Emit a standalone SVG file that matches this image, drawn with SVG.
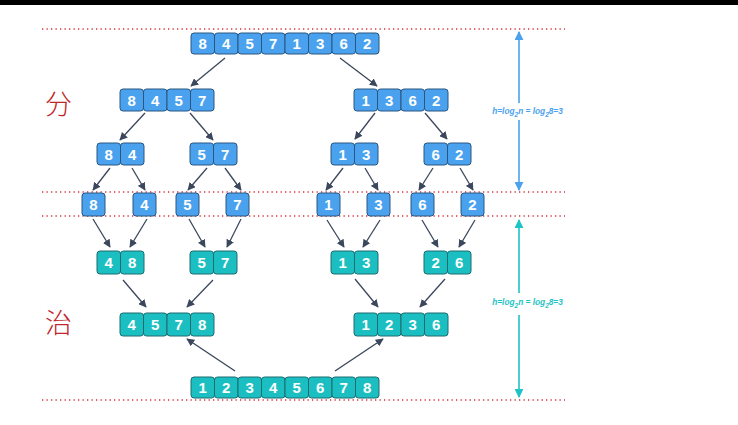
<svg xmlns="http://www.w3.org/2000/svg" width="738" height="425" viewBox="0 0 738 425">
<defs>
<style>
.b rect{fill:#4aa2ee;stroke:#2b5681;stroke-width:1}
.t rect{fill:#1cbfc1;stroke:#1d6c70;stroke-width:1}
.b text,.t text{font-family:"Liberation Sans",Arial,sans-serif;font-weight:bold;font-size:15px;fill:#fff;text-anchor:middle}
.dot{stroke:#d8343c;stroke-width:1.3;stroke-dasharray:1.3 3.2;fill:none}
.ar{stroke:#3a475c;stroke-width:1.3;fill:none;marker-end:url(#ah)}
.han{font-family:"Noto Sans CJK SC",sans-serif;font-size:27px;font-weight:300;fill:#c0262c}
.h{font-family:"Liberation Sans",Arial,sans-serif;font-size:8.3px;font-style:italic;font-weight:bold;text-anchor:middle}
</style>
<marker id="ah" viewBox="0 0 10 10" refX="9" refY="5" markerWidth="8" markerHeight="8" markerUnits="userSpaceOnUse" orient="auto"><path d="M0,0 L10,5 L0,10 z" fill="#3a475c"/></marker>
<marker id="hb" viewBox="0 0 10 10" refX="9" refY="5" markerWidth="9" markerHeight="9" markerUnits="userSpaceOnUse" orient="auto-start-reverse"><path d="M0,0 L10,5 L0,10 z" fill="#4aa2ee"/></marker>
<marker id="ht" viewBox="0 0 10 10" refX="9" refY="5" markerWidth="9" markerHeight="9" markerUnits="userSpaceOnUse" orient="auto-start-reverse"><path d="M0,0 L10,5 L0,10 z" fill="#1cc4c6"/></marker>
</defs>
<rect x="0" y="0" width="738" height="425" fill="#fff"/>
<rect x="0" y="0" width="738" height="5" fill="#000"/>
<g id="guides">
<line class="dot" x1="42" y1="29" x2="565" y2="29"/>
<line class="dot" x1="42" y1="192" x2="565" y2="192"/>
<line class="dot" x1="42" y1="216" x2="565" y2="216"/>
<line class="dot" x1="42" y1="400" x2="565" y2="400"/>
</g>
<text id="fen" class="han" x="45" y="114">分</text>
<text id="zhi" class="han" x="45" y="333">治</text>
<g id="connectors">
<line class="ar" x1="225" y1="58" x2="191" y2="86"/>
<line class="ar" x1="340" y1="58" x2="377" y2="86"/>
<line class="ar" x1="145" y1="113" x2="120" y2="140"/>
<line class="ar" x1="190" y1="113" x2="213" y2="140"/>
<line class="ar" x1="375" y1="113" x2="355" y2="139"/>
<line class="ar" x1="425" y1="113" x2="447" y2="139"/>
<line class="ar" x1="110" y1="168" x2="93" y2="190"/>
<line class="ar" x1="132" y1="168" x2="145" y2="190"/>
<line class="ar" x1="207" y1="168" x2="188" y2="190"/>
<line class="ar" x1="225" y1="168" x2="241" y2="190"/>
<line class="ar" x1="343" y1="168" x2="326" y2="190"/>
<line class="ar" x1="365" y1="168" x2="378" y2="190"/>
<line class="ar" x1="433" y1="168" x2="419" y2="190"/>
<line class="ar" x1="460" y1="168" x2="473" y2="190"/>
<line class="ar" x1="93" y1="219" x2="110" y2="247"/>
<line class="ar" x1="147" y1="219" x2="130" y2="247"/>
<line class="ar" x1="189" y1="219" x2="205" y2="247"/>
<line class="ar" x1="241" y1="219" x2="227" y2="247"/>
<line class="ar" x1="327" y1="220" x2="344" y2="247"/>
<line class="ar" x1="380" y1="220" x2="363" y2="247"/>
<line class="ar" x1="422" y1="220" x2="438" y2="247"/>
<line class="ar" x1="475" y1="220" x2="459" y2="247"/>
<line class="ar" x1="123" y1="280" x2="146" y2="307"/>
<line class="ar" x1="213" y1="280" x2="187" y2="307"/>
<line class="ar" x1="355" y1="279" x2="378" y2="307"/>
<line class="ar" x1="445" y1="279" x2="420" y2="307"/>
<line class="ar" x1="235" y1="371" x2="187" y2="339"/>
<line class="ar" x1="335" y1="371" x2="383" y2="339"/>
<line x1="519" y1="103" x2="519" y2="32" stroke="#4aa2ee" stroke-width="1.6" marker-end="url(#hb)"/>
<line x1="519" y1="120" x2="519" y2="190" stroke="#4aa2ee" stroke-width="1.6" marker-end="url(#hb)"/>
<line x1="519" y1="293" x2="519" y2="220" stroke="#1cc4c6" stroke-width="1.6" marker-end="url(#ht)"/>
<line x1="519" y1="315" x2="519" y2="397" stroke="#1cc4c6" stroke-width="1.6" marker-end="url(#ht)"/>
</g>
<text class="h" x="527.5" y="114" fill="#4aa2ee">h=log<tspan font-size="6.5" dy="2.5">2</tspan><tspan dy="-2.5">n = log</tspan><tspan font-size="6.5" dy="2.5">2</tspan><tspan dy="-2.5">8=3</tspan></text>
<text class="h" x="527.5" y="305" fill="#1cc4c6">h=log<tspan font-size="6.5" dy="2.5">2</tspan><tspan dy="-2.5">n = log</tspan><tspan font-size="6.5" dy="2.5">2</tspan><tspan dy="-2.5">8=3</tspan></text>
<g id="r1" class="b">
<rect x="191" y="33" width="23.5" height="21" rx="3"/><text x="202.75" y="49">8</text>
<rect x="214.5" y="33" width="23.5" height="21" rx="3"/><text x="226.25" y="49">4</text>
<rect x="238" y="33" width="23.5" height="21" rx="3"/><text x="249.75" y="49">5</text>
<rect x="261.5" y="33" width="23.5" height="21" rx="3"/><text x="273.25" y="49">7</text>
<rect x="285" y="33" width="23.5" height="21" rx="3"/><text x="296.75" y="49">1</text>
<rect x="308.5" y="33" width="23.5" height="21" rx="3"/><text x="320.25" y="49">3</text>
<rect x="332" y="33" width="23.5" height="21" rx="3"/><text x="343.75" y="49">6</text>
<rect x="355.5" y="33" width="23.5" height="21" rx="3"/><text x="367.25" y="49">2</text>
</g>
<g id="r2a" class="b">
<rect x="120" y="89" width="23.5" height="22" rx="3"/><text x="131.75" y="105.5">8</text>
<rect x="143.5" y="89" width="23.5" height="22" rx="3"/><text x="155.25" y="105.5">4</text>
<rect x="167" y="89" width="23.5" height="22" rx="3"/><text x="178.75" y="105.5">5</text>
<rect x="190.5" y="89" width="23.5" height="22" rx="3"/><text x="202.25" y="105.5">7</text>
</g>
<g id="r2b" class="b">
<rect x="354" y="89" width="23.5" height="22" rx="3"/><text x="365.75" y="105.5">1</text>
<rect x="377.5" y="89" width="23.5" height="22" rx="3"/><text x="389.25" y="105.5">3</text>
<rect x="401" y="89" width="23.5" height="22" rx="3"/><text x="412.75" y="105.5">6</text>
<rect x="424.5" y="89" width="23.5" height="22" rx="3"/><text x="436.25" y="105.5">2</text>
</g>
<g id="r3a" class="b">
<rect x="97" y="143" width="23.5" height="22" rx="3"/><text x="108.75" y="159.5">8</text>
<rect x="120.5" y="143" width="23.5" height="22" rx="3"/><text x="132.25" y="159.5">4</text>
</g>
<g id="r3b" class="b">
<rect x="190" y="143" width="23.5" height="22" rx="3"/><text x="201.75" y="159.5">5</text>
<rect x="213.5" y="143" width="23.5" height="22" rx="3"/><text x="225.25" y="159.5">7</text>
</g>
<g id="r3c" class="b">
<rect x="331" y="143" width="23.5" height="22" rx="3"/><text x="342.75" y="159.5">1</text>
<rect x="354.5" y="143" width="23.5" height="22" rx="3"/><text x="366.25" y="159.5">3</text>
</g>
<g id="r3d" class="b">
<rect x="424" y="143" width="23.5" height="22" rx="3"/><text x="435.75" y="159.5">6</text>
<rect x="447.5" y="143" width="23.5" height="22" rx="3"/><text x="459.25" y="159.5">2</text>
</g>
<g id="r4" class="b">
<rect x="82" y="193" width="23" height="23" rx="3"/><text x="93.5" y="210">8</text>
<rect x="133" y="193" width="23" height="23" rx="3"/><text x="144.5" y="210">4</text>
<rect x="176" y="193" width="23" height="23" rx="3"/><text x="187.5" y="210">5</text>
<rect x="226" y="193" width="23" height="23" rx="3"/><text x="237.5" y="210">7</text>
<rect x="317" y="193" width="23" height="23" rx="3"/><text x="328.5" y="210">1</text>
<rect x="367" y="193" width="23" height="23" rx="3"/><text x="378.5" y="210">3</text>
<rect x="411" y="193" width="23" height="23" rx="3"/><text x="422.5" y="210">6</text>
<rect x="461" y="193" width="23" height="23" rx="3"/><text x="472.5" y="210">2</text>
</g>
<g id="r5a" class="t">
<rect x="97" y="251" width="23.5" height="23" rx="3"/><text x="108.75" y="268">4</text>
<rect x="120.5" y="251" width="23.5" height="23" rx="3"/><text x="132.25" y="268">8</text>
</g>
<g id="r5b" class="t">
<rect x="190" y="251" width="23.5" height="23" rx="3"/><text x="201.75" y="268">5</text>
<rect x="213.5" y="251" width="23.5" height="23" rx="3"/><text x="225.25" y="268">7</text>
</g>
<g id="r5c" class="t">
<rect x="331" y="251" width="23.5" height="23" rx="3"/><text x="342.75" y="268">1</text>
<rect x="354.5" y="251" width="23.5" height="23" rx="3"/><text x="366.25" y="268">3</text>
</g>
<g id="r5d" class="t">
<rect x="424" y="251" width="23.5" height="23" rx="3"/><text x="435.75" y="268">2</text>
<rect x="447.5" y="251" width="23.5" height="23" rx="3"/><text x="459.25" y="268">6</text>
</g>
<g id="r6a" class="t">
<rect x="120" y="313" width="23.5" height="23" rx="3"/><text x="131.75" y="330">4</text>
<rect x="143.5" y="313" width="23.5" height="23" rx="3"/><text x="155.25" y="330">5</text>
<rect x="167" y="313" width="23.5" height="23" rx="3"/><text x="178.75" y="330">7</text>
<rect x="190.5" y="313" width="23.5" height="23" rx="3"/><text x="202.25" y="330">8</text>
</g>
<g id="r6b" class="t">
<rect x="354" y="313" width="23.5" height="23" rx="3"/><text x="365.75" y="330">1</text>
<rect x="377.5" y="313" width="23.5" height="23" rx="3"/><text x="389.25" y="330">2</text>
<rect x="401" y="313" width="23.5" height="23" rx="3"/><text x="412.75" y="330">3</text>
<rect x="424.5" y="313" width="23.5" height="23" rx="3"/><text x="436.25" y="330">6</text>
</g>
<g id="r7" class="t">
<rect x="191" y="377" width="23.5" height="21" rx="3"/><text x="202.75" y="393">1</text>
<rect x="214.5" y="377" width="23.5" height="21" rx="3"/><text x="226.25" y="393">2</text>
<rect x="238" y="377" width="23.5" height="21" rx="3"/><text x="249.75" y="393">3</text>
<rect x="261.5" y="377" width="23.5" height="21" rx="3"/><text x="273.25" y="393">4</text>
<rect x="285" y="377" width="23.5" height="21" rx="3"/><text x="296.75" y="393">5</text>
<rect x="308.5" y="377" width="23.5" height="21" rx="3"/><text x="320.25" y="393">6</text>
<rect x="332" y="377" width="23.5" height="21" rx="3"/><text x="343.75" y="393">7</text>
<rect x="355.5" y="377" width="23.5" height="21" rx="3"/><text x="367.25" y="393">8</text>
</g>
</svg>
